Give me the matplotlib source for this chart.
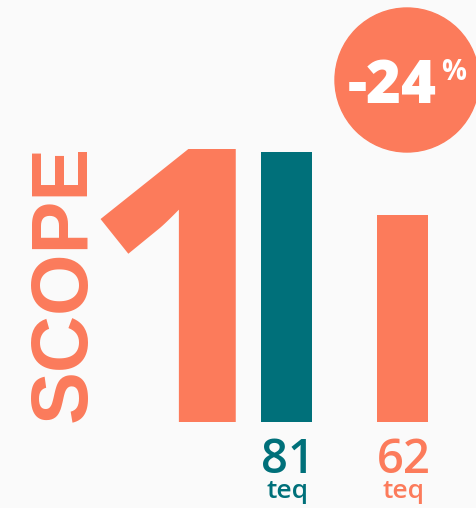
import matplotlib
matplotlib.use("Agg")
import matplotlib.pyplot as plt
from matplotlib.patches import Circle

# ---- data ----
categories = ["Before", "After"]
values = [81, 62]
unit = "teq"
change_label = "-24"
scope_word = "SCOPE"
scope_num = "1"

CORAL = "#FC7B5B"
TEAL = "#00707A"
BG = "#FAFAFA"
bar_colors = [TEAL, CORAL]

W, H = 477, 508
fig = plt.figure(figsize=(W / 100, H / 100), dpi=100, facecolor=BG)

# main bar axes (pixel-based placement)
px_per_unit = 270 / 81.0
ax_left = 228.5
ax_width = 232
ax_bottom = 86
ymax = 100
ax = fig.add_axes([ax_left / W, ax_bottom / H, ax_width / W, ymax * px_per_unit / H])
ax.set_facecolor("none")
xs = list(range(len(values)))
ax.bar(xs, values, width=0.44, color=bar_colors)
ax.set_xlim(-0.5, 1.5)
ax.set_ylim(0, ymax)
ax.axis("off")

for x, v, c in zip(xs, values, bar_colors):
    ax.annotate(str(v), (x, 0), xytext=(1, -11), textcoords="offset points",
                ha="center", va="top", color=c, fontsize=34,
                family="Open Sans", fontweight="semibold")
    ax.annotate(unit, (x, 0), xytext=(1, -41), textcoords="offset points",
                ha="center", va="top", color=c, fontsize=19,
                family="Open Sans", fontweight="semibold")

# overlay axes for decorations
ov = fig.add_axes([0, 0, 1, 1])
ov.set_xlim(0, W)
ov.set_ylim(H, 0)
ov.axis("off")
ov.set_facecolor("none")
ov.add_patch(Circle((407, 80), 72, color=CORAL, clip_on=False))
ov.text(392, 87, change_label, color="white", fontsize=43, family="Open Sans",
        fontweight="heavy", ha="center", va="center")
ov.text(454, 73, "%", color="white", fontsize=20, family="Open Sans",
        fontweight="bold", ha="center", va="center")

ov.text(65, 283, scope_word, rotation=90, color=CORAL, fontsize=57,
        family="Liberation Sans", fontweight="bold", ha="center", va="center")
ov.text(186, 323, scope_num, color=CORAL, fontsize=275, family="Open Sans",
        fontweight="bold", ha="center", va="center")

fig.savefig("out.png", dpi=100, facecolor=BG)
